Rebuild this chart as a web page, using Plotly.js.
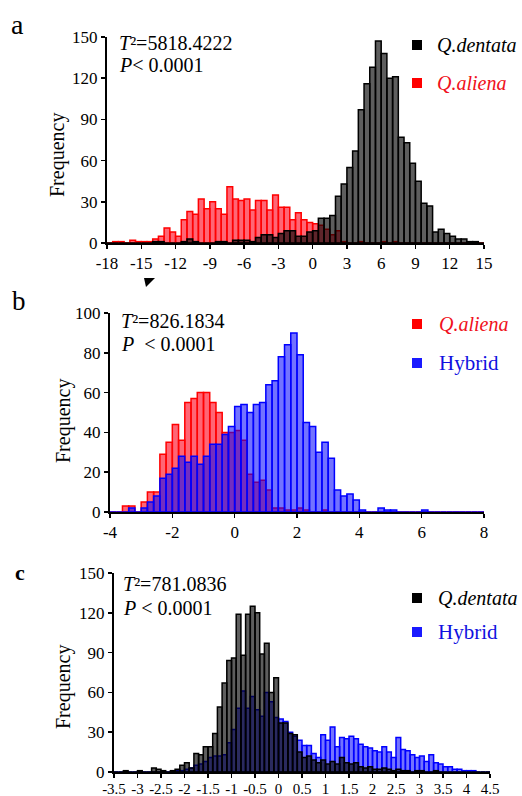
<!DOCTYPE html>
<html>
<head>
<meta charset="utf-8">
<script src="https://cdn.plot.ly/plotly-3.0.1.min.js"></script>
<style>
  html, body { margin: 0; padding: 0; background: #fff; }
  #chart { width: 522px; height: 796px; }
</style>
</head>
<body>
<div id="chart"></div>
<script>
// ---- Panel a: Q.dentata vs Q.aliena (bins of 0.5 starting at -18) ----
const binStartA = -18, binWidthA = 0.5;
const alienaA = [0,1,1,0,2,1,1,1,3,5,11,8,5,17,23,21,32,25,30,25,21,41,32,31,32,24,31,31,24,35,26,26,17,22,17,15,14,13,10,6,9,1,0,0,1,0,0,0,1,0,1,0,0,0,0,0,0,0,0,0,0,0,0,0,0,0];
const dentataA = [0,0,0,0,0,0,0,0,1,1,0,0,0,1,3,1,0,0,0,1,1,0,2,2,2,1,4,6,6,4,7,9,9,5,5,8,9,18,18,20,34,43,55,67,97,116,128,147,138,120,121,77,73,58,45,29,27,8,10,7,5,3,3,1,1,0];
const xTicksA = [-18,-15,-12,-9,-6,-3,0,3,6,9,12,15];
const yTicksA = [0,30,60,90,120,150];

// ---- Panel b: Q.aliena vs Hybrid (bins of 0.2 starting at -4) ----
const binStartB = -4, binWidthB = 0.2;
const alienaB = [0,0,3,3,0,5,10,10,29,35,44,36,55,57,60,60,55,50,40,40,41,36,19,15,16,11,2,2,1,1,2,1,0,0,1,0,0,0,0,0,0,0,0,0,0,0,0,0,0,0,0,0,0,0,0,0,0,0,0,0];
const hybridB = [0,0,0,2,0,2,5,8,17,19,22,28,25,28,24,28,34,34,39,43,53,54,50,54,55,64,66,78,84,90,79,45,43,30,35,27,11,8,9,6,1,0,0,2,1,1,0,0,0,0,1,0,0,0,0,0,0,0,0,0];
const xTicksB = [-4,-2,0,2,4,6,8];
const yTicksB = [0,20,40,60,80,100];

// ---- Panel c: Q.dentata vs Hybrid (bins of 0.1 starting at -3.5) ----
const binStartC = -3.5, binWidthC = 0.1;
const dentataC = [0,0,1,0,0,1,0,0,3,2,1,0,1,2,5,7,3,14,13,19,19,29,49,67,84,86,119,88,119,125,120,89,97,60,71,37,37,29,28,15,11,12,9,7,9,6,8,6,11,7,6,7,4,3,4,2,2,3,2,1,2,1,1,0,1,1,0,0,1,0,0,0,0,0,0,0,0,0,0,0];
const hybridC = [0,0,0,0,0,0,0,0,0,0,0,0,0,1,1,2,3,5,6,8,11,12,12,13,22,32,48,61,48,57,47,42,60,53,41,40,38,30,27,24,20,20,14,11,28,24,34,19,26,25,27,25,21,19,18,16,15,19,15,11,26,17,16,13,11,12,8,13,7,6,4,4,2,2,1,1,1,0,0,0];
const xTicksC = [-3.5,-3,-2.5,-2,-1.5,-1,-0.5,0,0.5,1,1.5,2,2.5,3,3.5,4,4.5];
const yTicksC = [0,30,60,90,120,150];

// ---- colours ----
const RED_FILL = 'rgba(255,0,25,0.6)', RED_LINE = '#ff0000';
const BLACK_FILL = 'rgba(0,0,0,0.63)', BLACK_LINE = '#000000';
const BLUE_FILL = 'rgba(0,0,255,0.55)', BLUE_LINE = '#0000ff';

const W = 522, H = 796;
const px = x => x / W;
const py = y => 1 - y / H;
const SERIF = 'Liberation Serif';

function histTrace(counts, start, width, xa, ya, fill, line) {
  return {
    type: 'bar',
    x: counts.map((_, i) => start + (i + 0.5) * width),
    y: counts,
    width: width,
    xaxis: xa, yaxis: ya,
    marker: { color: fill, line: { color: line, width: 1.5 } },
    hoverinfo: 'skip',
    showlegend: false
  };
}

const data = [
  histTrace(alienaA, binStartA, binWidthA, 'x', 'y', RED_FILL, RED_LINE),
  histTrace(dentataA, binStartA, binWidthA, 'x', 'y', BLACK_FILL, BLACK_LINE),
  histTrace(alienaB, binStartB, binWidthB, 'x2', 'y2', RED_FILL, RED_LINE),
  histTrace(hybridB, binStartB, binWidthB, 'x2', 'y2', BLUE_FILL, BLUE_LINE),
  histTrace(hybridC, binStartC, binWidthC, 'x3', 'y3', BLUE_FILL, BLUE_LINE),
  histTrace(dentataC, binStartC, binWidthC, 'x3', 'y3', BLACK_FILL, BLACK_LINE)
];

function xAxis(domain, anchor, range, ticks, fontSize, standoff) {
  return {
    domain: domain, anchor: anchor, range: range,
    tickmode: 'array', tickvals: ticks, ticktext: ticks.map(v => String(v)),
    ticks: 'outside', ticklen: 4, tickwidth: 1.5, tickcolor: '#000',
    ticklabelstandoff: standoff,
    showline: true, linecolor: '#000', linewidth: 2,
    showgrid: false, zeroline: false, tickangle: 0, fixedrange: true,
    tickfont: { family: SERIF, size: fontSize, color: '#000' }
  };
}
function yAxis(domain, anchor, range, ticks) {
  return {
    domain: domain, anchor: anchor, range: range,
    tickmode: 'array', tickvals: ticks, ticktext: ticks.map(v => String(v)),
    ticks: 'outside', ticklen: 4, tickwidth: 1.5, tickcolor: '#000',
    showline: true, linecolor: '#000', linewidth: 2,
    showgrid: false, zeroline: false, fixedrange: true,
    tickfont: { family: SERIF, size: 17, color: '#000' }
  };
}

function label(x, y, text, opts) {
  return Object.assign({
    xref: 'paper', yref: 'paper', x: px(x), y: py(y),
    xanchor: 'left', yanchor: 'middle', showarrow: false, text: text,
    borderpad: 0,
    font: { family: SERIF, size: 20, color: '#000' }
  }, opts || {});
}
function square(x0, y0, color) {
  return { type: 'rect', xref: 'paper', yref: 'paper',
           x0: px(x0), x1: px(x0 + 10), y0: py(y0 + 10), y1: py(y0),
           fillcolor: color, line: { width: 0 } };
}

const annotations = [
  // panel letters
  label(17, 24, 'a', { xanchor: 'center', font: { family: SERIF, size: 28, color: '#000' } }),
  label(19, 301, 'b', { xanchor: 'center', font: { family: SERIF, size: 27, color: '#000' } }),
  label(20, 572, '<b>c</b>', { xanchor: 'center', font: { family: SERIF, size: 22, color: '#000' } }),
  // y titles
  label(57, 155, 'Frequency', { xanchor: 'center', textangle: -90 }),
  label(63, 421, 'Frequency', { xanchor: 'center', textangle: -90 }),
  label(63, 687, 'Frequency', { xanchor: 'center', textangle: -90 }),
  // statistics
  label(118, 43, '<i>T</i>²=5818.4222'),
  label(118, 65, '<i>P</i>&lt; 0.0001'),
  label(120, 321, '<i>T</i>²=826.1834'),
  label(120, 344, '<i>P</i>\u00a0\u00a0&lt; 0.0001'),
  label(122, 584, '<i>T</i>²=781.0836'),
  label(122, 608, '<i>P</i>\u00a0&lt; 0.0001'),
  // key labels
  label(436, 45, '<i>Q.dentata</i>'),
  label(436, 83, '<i>Q.aliena</i>', { font: { family: SERIF, size: 20, color: '#f01020' } }),
  label(438, 324, '<i>Q.aliena</i>', { font: { family: SERIF, size: 20, color: '#f01020' } }),
  label(438, 363, 'Hybrid', { font: { family: SERIF, size: 21, color: '#1010e0' } }),
  label(437, 598, '<i>Q.dentata</i>'),
  label(437, 632, 'Hybrid', { font: { family: SERIF, size: 21, color: '#1010e0' } })
];

const shapes = [
  square(412, 40, '#000'),
  square(412, 78, '#ff0000'),
  square(412, 319, '#ff0000'),
  square(412, 358, '#1a1aff'),
  square(412, 593, '#000'),
  square(412, 627, '#1a1aff'),
  { type: 'path', xref: 'paper', yref: 'paper',
    path: 'M ' + px(144) + ',' + py(278) + ' L ' + px(155) + ',' + py(278) + ' L ' + px(146) + ',' + py(287) + ' Z',
    fillcolor: '#000', line: { width: 0 } }
];

const layout = {
  width: W, height: H,
  margin: { l: 0, r: 0, t: 0, b: 0 },
  font: { family: SERIF, color: '#000' },
  paper_bgcolor: '#fff', plot_bgcolor: 'rgba(0,0,0,0)',
  barmode: 'overlay', bargap: 0,
  showlegend: false,
  xaxis: xAxis([px(107), px(484)], 'y', [-18, 15], xTicksA, 17, 0),
  yaxis: yAxis([py(243), py(37)], 'x', [0, 150], yTicksA),
  xaxis2: xAxis([px(110), px(484)], 'y2', [-4, 8], xTicksB, 17, 0),
  yaxis2: yAxis([py(512), py(313)], 'x2', [0, 100], yTicksB),
  xaxis3: xAxis([px(114), px(490)], 'y3', [-3.5, 4.5], xTicksC, 15, -2),
  yaxis3: yAxis([py(772), py(573)], 'x3', [0, 150], yTicksC),
  annotations: annotations,
  shapes: shapes
};

Plotly.newPlot('chart', data, layout, { staticPlot: true, displayModeBar: false });
</script>
</body>
</html>
